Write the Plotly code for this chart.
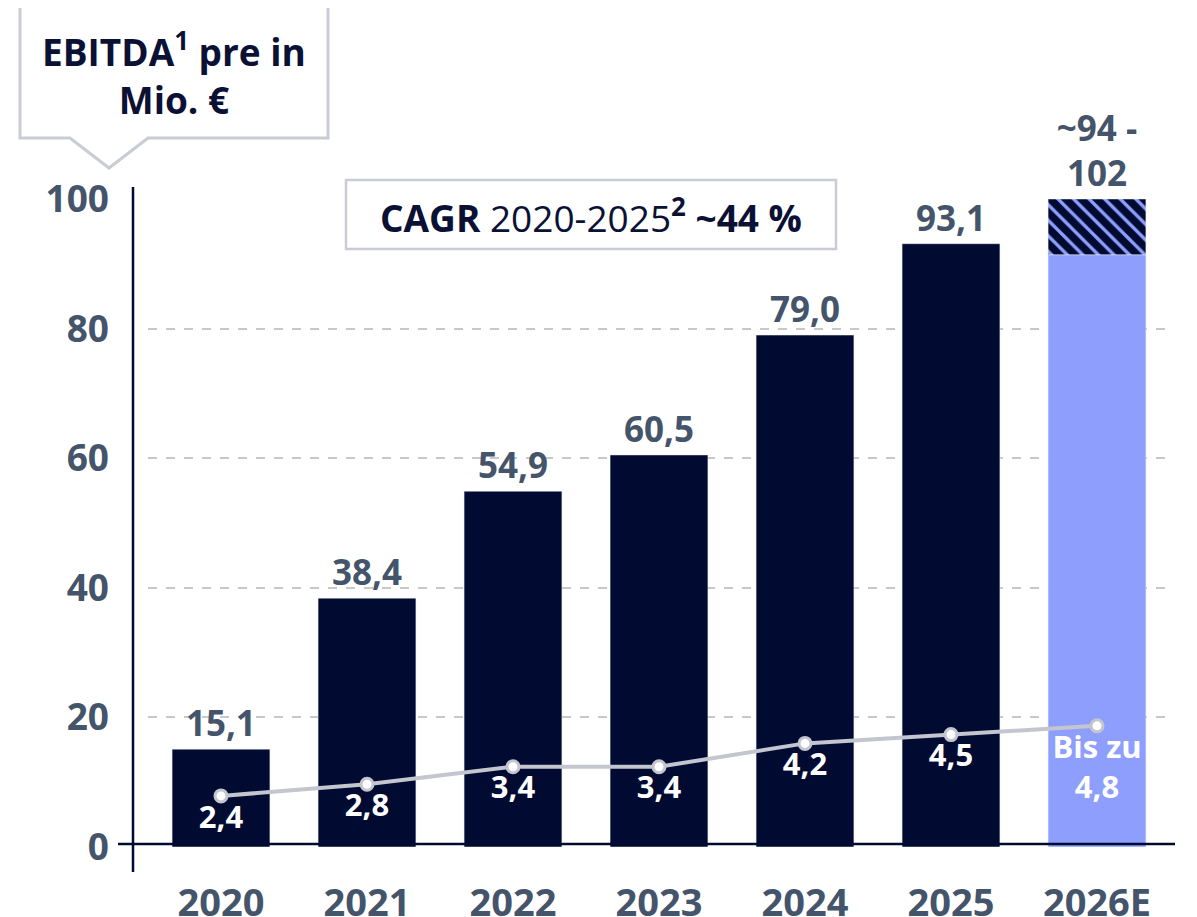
import plotly.graph_objects as go

# Data
years = ["2020", "2021", "2022", "2023", "2024", "2025", "2026E"]
ebitda = [15.1, 38.4, 54.9, 60.5, 79.0, 93.1, None]
ebitda_labels = ["15,1", "38,4", "54,9", "60,5", "79,0", "93,1", ""]
forecast_base = [None, None, None, None, None, None, 91.4]
forecast_range = [None, None, None, None, None, None, 8.6]
forecast_label = ["", "", "", "", "", "", "~94 -<br>102"]
margin_vals = [2.4, 2.8, 3.4, 3.4, 4.2, 4.5, 4.8]
margin_labels = ["2,4", "2,8", "3,4", "3,4", "4,2", "4,5", "Bis zu<br>4,8"]

NAVY = "#010a31"
LIGHT = "#8e9efc"
SLATE = "#44546a"
BOX = "#c9cbd5"
FONT = "Open Sans"

# page body adds an 8px margin at top/left
OFF = 8
W, H = 1197 - OFF, 917 - OFF
# plot area in reference pixels (for the decoration shapes)
PL, PR, PT, PB = 148, 1170, 199, 847


def px(x):
    return (x - PL) / (PR - PL)


def py(y):
    return (PB - y) / (PB - PT)


fig = go.Figure()

fig.add_trace(go.Bar(
    x=years, y=ebitda, marker_color=NAVY,
    text=ebitda_labels, textposition="outside",
    textfont=dict(family=FONT, size=35, color=SLATE, weight="bold"),
    cliponaxis=False, hoverinfo="skip",
))
fig.add_trace(go.Bar(
    x=years, y=forecast_base, marker_color=LIGHT, hoverinfo="skip",
))
fig.add_trace(go.Bar(
    x=years, y=forecast_range, base=forecast_base,
    marker=dict(color=LIGHT, pattern=dict(shape="\\", fgcolor=NAVY, fgopacity=1,
                                           size=11, solidity=0.7)),
    text=forecast_label, textposition="outside",
    textfont=dict(family=FONT, size=35, color=SLATE, weight="bold"),
    cliponaxis=False, hoverinfo="skip",
))
fig.add_trace(go.Scatter(
    x=years, y=margin_vals, yaxis="y2", mode="lines+markers+text",
    line=dict(color="#c3c5cf", width=4),
    marker=dict(size=12, color="white", line=dict(color="#c3c5cf", width=3)),
    text=margin_labels, textposition="bottom center",
    textfont=dict(family=FONT, size=31, color="white", weight="bold"),
    cliponaxis=False, hoverinfo="skip",
))

shapes = [
    # vertical axis line
    dict(type="line", xref="paper", yref="paper", x0=px(133), x1=px(133),
         y0=py(187), y1=py(872), line=dict(color=NAVY, width=2.5), layer="above"),
    # horizontal axis line
    dict(type="line", xref="paper", yref="paper", x0=px(118), x1=px(1175),
         y0=py(844), y1=py(844), line=dict(color=NAVY, width=2.5), layer="above"),
    # CAGR box
    dict(type="rect", xref="paper", yref="paper", x0=px(346), x1=px(836),
         y0=py(249), y1=py(180), fillcolor="white", line=dict(color=BOX, width=2.5),
         layer="above"),
]
# title speech box
pts = [(20, 5), (328, 5), (328, 138), (148, 138), (109, 168), (70, 138), (20, 138)]
path = "M " + " L ".join(f"{px(x):.5f},{py(y):.5f}" for x, y in pts) + " Z"
shapes.append(dict(type="path", xref="paper", yref="paper", path=path,
                   fillcolor="white", line=dict(color=BOX, width=3), layer="above"))

fig.update_layout(
    width=W, height=H,
    margin=dict(l=PL - OFF, r=W - (PR - OFF), t=PT - OFF, b=H - (PB - OFF)),
    paper_bgcolor="white", plot_bgcolor="white",
    barmode="overlay", bargap=0.33, showlegend=False,
    font=dict(family=FONT, color=SLATE),
    shapes=shapes,
    xaxis=dict(showgrid=False, showline=False, ticks="", automargin=False,
               tickfont=dict(family=FONT, size=38, color=SLATE, weight="bold"),
               ticklabelstandoff=30),
    yaxis=dict(range=[0, 100], dtick=20, showgrid=True, gridcolor="#c8c8c8",
               griddash="dash", gridwidth=1.5, zeroline=False, showline=False,
               automargin=False,
               tickfont=dict(family=FONT, size=37, color=SLATE, weight="bold"),
               ticklabelstandoff=38),
    yaxis2=dict(range=[0.65, 22.85], overlaying="y", visible=False),
    annotations=[
        dict(xref="paper", yref="paper", x=px(174), y=py(73), xanchor="center",
             yanchor="middle", showarrow=False,
             text="EBITDA<sup>1</sup> pre in<br>Mio. €",
             font=dict(family=FONT, size=37, color="#0b1035", weight="bold")),
        dict(xref="paper", yref="paper", x=px(591), y=py(215), xanchor="center",
             yanchor="middle", showarrow=False,
             text="<b>CAGR</b> 2020-2025<sup><b>2</b></sup> <b>~44 %</b>",
             font=dict(family=FONT, size=37, color="#0b1035")),
    ],
)

fig.write_html("out.html")
